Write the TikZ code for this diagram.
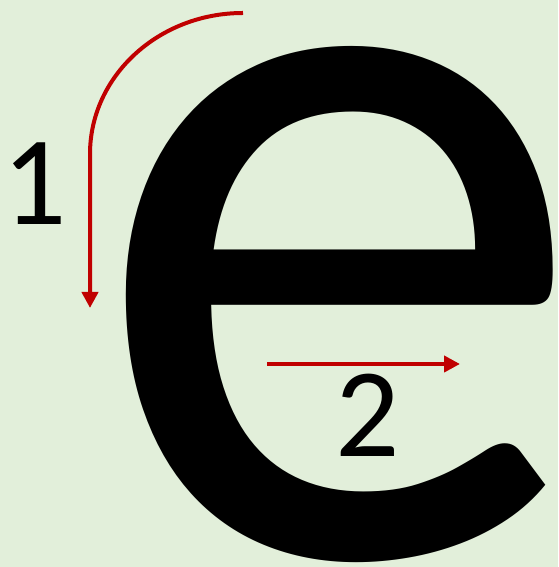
\documentclass[tikz,border=0pt]{standalone}
\usepackage{fontspec}
\setmainfont{Carlito}
\usetikzlibrary{arrows.meta, positioning}
\definecolor{bggreen}{RGB}{226,239,218}
\definecolor{arrowred}{RGB}{192,0,0}

\begin{document}
\begin{tikzpicture}[x=1pt, y=1pt, >={Triangle[length=16pt, width=16pt]},
    stroke/.style={->, draw=arrowred, line width=4pt},
    digit/.style={inner sep=0pt, anchor=base, font=\fontsize{127pt}{127pt}\selectfont}]
        \fill[bggreen] (0,0) rectangle (558,567);
        \useasboundingbox (0,0) rectangle (558,567);
        \node (e) [inner sep=0pt, anchor=base west, xscale=0.957] at (89,11) {\fontsize{1050pt}{1050pt}\selectfont e};
        \node (n1) [digit] at (35,342) {1};
        \node (n2) [digit] at (368,110) {2};
        \coordinate (s1) at (243,554);
        \coordinate (t1) at (90,259);
        \coordinate (s2) at (267,203);
        \coordinate (t2) at (460,203);
        \draw[stroke] (s1) arc[start angle=90, end angle=180, x radius=153, y radius=141] -- (t1);
        \draw[stroke] (s2) -- (t2);
      \end{tikzpicture}
\end{document}
